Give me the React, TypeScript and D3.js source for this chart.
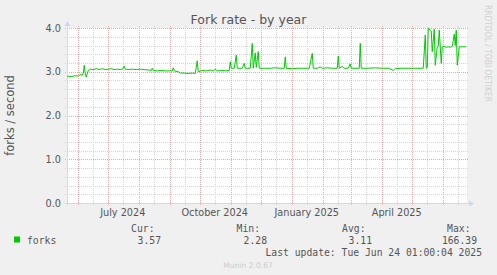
import React from "react";
import * as d3 from "d3";

const W = 497;
const H = 275;

const title = "Fork rate - by year";
const yLabel = "forks / second";
const watermark = "RRDTOOL / TOBI OETIKER";
const footer = "Munin 2.0.67";

const yTicks = [0, 1, 2, 3, 4];
const yTickLabels = ["0.0", "1.0", "2.0", "3.0", "4.0"];

const xLabelDates = ["2024-07-16", "2024-10-16", "2025-01-16", "2025-04-16"];
const xLabels = ["July 2024", "October 2024", "January 2025", "April 2025"];

const seriesName = "forks";
const legendHeaders = ["Cur:", "Min:", "Avg:", "Max:"];
const legendValues = ["3.57", "2.28", "3.11", "166.39"];
const lastUpdate = "Last update: Tue Jun 24 01:00:04 2025";

const dates = [
  "2024-05-21", "2024-05-25", "2024-05-29", "2024-06-01", "2024-06-03", "2024-06-05", "2024-06-06",
  "2024-06-07", "2024-06-08", "2024-06-09", "2024-06-11", "2024-06-13", "2024-06-16", "2024-06-19",
  "2024-06-22", "2024-06-25", "2024-06-28", "2024-07-01", "2024-07-04", "2024-07-07", "2024-07-10",
  "2024-07-13", "2024-07-15", "2024-07-17", "2024-07-18", "2024-07-21", "2024-07-25", "2024-07-29",
  "2024-08-02", "2024-08-06", "2024-08-10", "2024-08-13", "2024-08-14", "2024-08-15", "2024-08-19",
  "2024-08-23", "2024-08-27", "2024-08-31", "2024-09-03", "2024-09-04", "2024-09-05", "2024-09-09",
  "2024-09-11", "2024-09-15", "2024-09-19", "2024-09-23", "2024-09-26", "2024-09-28", "2024-09-29",
  "2024-10-03", "2024-10-07", "2024-10-11", "2024-10-14", "2024-10-16", "2024-10-18", "2024-10-22",
  "2024-10-26", "2024-10-30", "2024-10-31", "2024-11-01", "2024-11-04", "2024-11-06", "2024-11-07",
  "2024-11-12", "2024-11-14", "2024-11-15", "2024-11-20", "2024-11-22", "2024-11-23", "2024-11-25",
  "2024-11-26", "2024-11-28", "2024-11-29", "2024-12-05", "2024-12-10", "2024-12-15", "2024-12-20",
  "2024-12-24", "2024-12-25", "2024-12-26", "2025-01-01", "2025-01-06", "2025-01-12", "2025-01-18",
  "2025-01-21", "2025-01-22", "2025-01-26", "2025-01-29", "2025-01-31", "2025-02-05", "2025-02-10",
  "2025-02-15", "2025-02-16", "2025-02-17", "2025-02-20", "2025-02-22", "2025-02-26", "2025-02-28",
  "2025-03-01", "2025-03-09", "2025-03-10", "2025-03-11", "2025-03-18", "2025-03-25", "2025-04-01",
  "2025-04-08", "2025-04-12", "2025-04-14", "2025-04-20", "2025-04-27", "2025-05-04", "2025-05-12",
  "2025-05-14", "2025-05-15", "2025-05-16", "2025-05-17", "2025-05-19", "2025-05-20", "2025-05-21",
  "2025-05-23", "2025-05-24", "2025-05-26", "2025-05-27", "2025-05-28", "2025-05-30", "2025-05-31",
  "2025-06-02", "2025-06-04", "2025-06-06", "2025-06-08", "2025-06-10", "2025-06-12", "2025-06-13",
  "2025-06-14", "2025-06-15", "2025-06-17", "2025-06-20", "2025-06-24",
];

const values = [
  2.90, 2.89, 2.91, 2.90, 2.94, 2.92, 2.97,
  3.15, 2.95, 2.88, 3.03, 3.06, 3.05, 3.07,
  3.05, 3.07, 3.05, 3.06, 3.07, 3.05, 3.06,
  3.05, 3.06, 3.13, 3.06, 3.05, 3.06, 3.05,
  3.06, 3.05, 3.04, 3.03, 3.08, 3.03, 3.02,
  3.03, 3.02, 3.02, 3.02, 3.09, 3.02, 3.00,
  2.97, 2.97, 2.96, 2.97, 2.96, 3.25, 3.00,
  3.03, 3.02, 3.04, 3.02, 3.06, 3.02, 3.03,
  3.02, 3.03, 3.23, 3.08, 3.08, 3.38, 3.08,
  3.08, 3.19, 3.08, 3.08, 3.65, 3.08, 3.43,
  3.10, 3.46, 3.08, 3.08, 3.08, 3.09, 3.08,
  3.08, 3.34, 3.08, 3.07, 3.08, 3.08, 3.08,
  3.42, 3.08, 3.08, 3.11, 3.08, 3.09, 3.08,
  3.08, 3.36, 3.08, 3.12, 3.08, 3.08, 3.18,
  3.08, 3.08, 3.65, 3.08, 3.08, 3.09, 3.08,
  3.08, 3.03, 3.07, 3.08, 3.08, 3.08, 3.08,
  3.84, 3.08, 3.10, 3.99, 3.95, 3.93, 3.46,
  3.97, 3.15, 3.57, 3.58, 3.95, 3.19, 3.57,
  3.58, 3.56, 3.57, 3.56, 3.58, 3.86, 3.60,
  3.95, 3.15, 3.57, 3.57, 3.57,
];

const startDate = new Date(Date.UTC(2024, 4, 21, 6));
const endDate = new Date(Date.UTC(2025, 5, 25, 6));

const X0 = 67;
const X1 = 467;
const Y0 = 203;
const Y1 = 28;

const SANS = "'DejaVu Sans', sans-serif";
const MONO = "'DejaVu Sans Mono', monospace";
const TXT = "#555";
const MGRID = "#eaa8a8";
const GRID = "#d4d4d4";
const AXIS = "#CFD6F8";
const GREEN = "#00CC00";

export default function App() {
  const x = d3.scaleUtc().domain([startDate, endDate]).range([X0, X1]);
  const y = d3.scaleLinear().domain([0, 4]).range([Y0, Y1]);

  const data = dates.map((d, i) => ({ t: new Date(d + "T12:00:00Z"), v: values[i] }));
  const line = d3
    .line<{ t: Date; v: number }>()
    .x((d) => x(d.t))
    .y((d) => y(d.v));

  const monthStarts = d3.utcMonth.range(startDate, endDate);
  const midMonths = monthStarts
    .map((m) => d3.utcDay.offset(m, 15))
    .filter((d) => d > startDate && d < endDate);

  const minorY = d3.range(0, 4.0001, 0.2).filter((v) => Math.abs(v - Math.round(v)) > 1e-6);

  return (
    <svg
      width={W}
      height={H}
      style={{ position: "absolute", left: 0, top: 0, display: "block" }}
    >
      <rect x={0} y={0} width={W} height={H} fill="#F0F0F0" />
      <rect x={X0} y={Y1} width={X1 - X0} height={Y0 - Y1} fill="#FFFFFF" />

      {/* minor grid */}
      {minorY.map((v, i) => (
        <line
          key={"my" + i}
          x1={X0 - 2}
          x2={X1 + 2}
          y1={Math.round(y(v)) + 0.5}
          y2={Math.round(y(v)) + 0.5}
          stroke={GRID}
          strokeDasharray="1,1"
        />
      ))}
      {midMonths.map((d, i) => (
        <line
          key={"mx" + i}
          x1={Math.round(x(d)) + 0.5}
          x2={Math.round(x(d)) + 0.5}
          y1={Y0 + 2}
          y2={Y1 - 2}
          stroke={GRID}
          strokeDasharray="1,1"
        />
      ))}
      {/* major grid */}
      {yTicks.map((v, i) => (
        <line
          key={"My" + i}
          x1={X0 - 2}
          x2={X1 + 2}
          y1={Math.round(y(v)) + 0.5}
          y2={Math.round(y(v)) + 0.5}
          stroke={MGRID}
          strokeDasharray="1,1"
        />
      ))}
      {monthStarts.map((d, i) => (
        <line
          key={"Mx" + i}
          x1={Math.round(x(d)) + 0.5}
          x2={Math.round(x(d)) + 0.5}
          y1={Y0 + 2}
          y2={Y1 - 2}
          stroke={MGRID}
          strokeDasharray="1,1"
        />
      ))}

      {/* axes */}
      <line x1={X0 + 0.5} x2={X0 + 0.5} y1={Y0 + 2} y2={Y1 - 4} stroke={AXIS} />
      <line x1={X0 - 2} x2={X1 + 4} y1={Y0 + 0.5} y2={Y0 + 0.5} stroke={AXIS} />
      <path d={`M${X0 - 2.5},${Y1 - 2} L${X0 + 3.5},${Y1 - 2} L${X0 + 0.5},${Y1 - 7} Z`} fill={AXIS} />
      <path d={`M${X1 + 2},${Y0 - 2.5} L${X1 + 2},${Y0 + 3.5} L${X1 + 7},${Y0 + 0.5} Z`} fill={AXIS} />

      {/* data */}
      <path d={line(data) || ""} fill="none" stroke={GREEN} strokeWidth={1} />

      {/* y tick labels */}
      {yTicks.map((v, i) => (
        <text
          key={"yl" + i}
          x={61}
          y={y(v) + 3.5}
          textAnchor="end"
          fontFamily={SANS}
          fontSize={9.7}
          fill={TXT}
        >
          {yTickLabels[i]}
        </text>
      ))}

      {/* x labels */}
      {xLabels.map((l, i) => (
        <text
          key={"xl" + i}
          x={x(new Date(xLabelDates[i] + "T00:00:00Z"))}
          y={216}
          textAnchor="middle"
          fontFamily={SANS}
          fontSize={9.7}
          fill={TXT}
        >
          {l}
        </text>
      ))}

      {/* title */}
      <text x={248.5} y={23.5} textAnchor="middle" fontFamily={SANS} fontSize={12.5} fill={TXT}>
        {title}
      </text>

      {/* y axis label */}
      <text
        transform={`translate(14,${(Y0 + Y1) / 2}) rotate(-90)`}
        textAnchor="middle"
        fontFamily={SANS}
        fontSize={11.5}
        fill={TXT}
      >
        {yLabel}
      </text>

      {/* watermark */}
      <text
        transform="translate(485,5) rotate(90)"
        fontFamily={SANS}
        fontSize={8}
        fill="#d0d0d0"
        textLength={97}
        lengthAdjust="spacingAndGlyphs"
      >
        {watermark}
      </text>

      {/* legend */}
      <rect x={14} y={236.5} width={6} height={6} fill={GREEN} />
      <text x={27} y={243.5} fontFamily={MONO} fontSize={9.72} fill={TXT}>
        {seriesName}
      </text>
      {legendHeaders.map((h, i) => (
        <text
          key={"lh" + i}
          x={[154.5, 260, 365.5, 470.5][i]}
          y={231.5}
          textAnchor="end"
          fontFamily={MONO}
          fontSize={9.72}
          fill={TXT}
        >
          {h}
        </text>
      ))}
      {legendValues.map((v, i) => (
        <text
          key={"lv" + i}
          x={[161, 267, 372, 477][i]}
          y={243.5}
          textAnchor="end"
          fontFamily={MONO}
          fontSize={9.72}
          fill={TXT}
        >
          {v}
        </text>
      ))}
      <text x={482} y={255.5} textAnchor="end" fontFamily={MONO} fontSize={9.72} fill={TXT}>
        {lastUpdate}
      </text>
      <text x={248} y={267.5} textAnchor="middle" fontFamily={SANS} fontSize={7.6} fill="#cccccc">
        {footer}
      </text>
    </svg>
  );
}
